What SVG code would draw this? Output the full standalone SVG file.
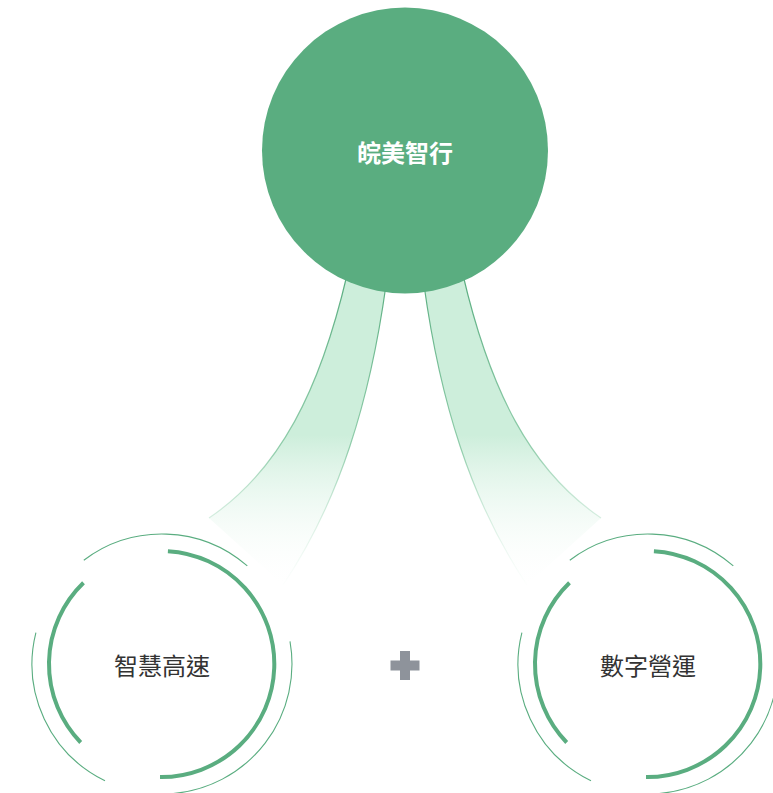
<svg xmlns="http://www.w3.org/2000/svg" width="773" height="793" viewBox="0 0 773 793">
  <style>
    .thick { fill: none; stroke: #5aad80; stroke-width: 4; }
    .thin { fill: none; stroke: #5aad80; stroke-width: 1.1; }
    .label { font-family: "Noto Sans CJK TC", "Noto Sans CJK SC", sans-serif; font-size: 24px; fill: #333333; text-anchor: middle; dominant-baseline: central; }
    .title { font-family: "Noto Sans CJK SC", "Noto Sans CJK TC", sans-serif; font-size: 24px; font-weight: bold; fill: #ffffff; text-anchor: middle; dominant-baseline: central; }
    .band { fill: url(#bandFill); stroke: none; }
    .edge { fill: none; stroke: url(#edgeStroke); stroke-width: 1.2; }
  </style>
  <defs>
    <linearGradient id="bandFill" gradientUnits="userSpaceOnUse" x1="0" y1="280" x2="0" y2="590">
      <stop offset="0" stop-color="#cdeedb"/>
      <stop offset="0.5" stop-color="#cdeedb"/>
      <stop offset="1" stop-color="#ffffff" stop-opacity="0"/>
    </linearGradient>
    <linearGradient id="edgeStroke" gradientUnits="userSpaceOnUse" x1="0" y1="280" x2="0" y2="590">
      <stop offset="0" stop-color="#5aad80"/>
      <stop offset="0.55" stop-color="#7cc39b" stop-opacity="0.8"/>
      <stop offset="1" stop-color="#cdeedb" stop-opacity="0"/>
    </linearGradient>
    <g id="ring">
      <path class="thick" d="M167.9 551.2 A113 113 0 0 1 160 777"/>
      <path class="thick" d="M80.7 742.5 A113 113 0 0 1 83.5 582.7"/>
      <path class="thin" d="M83.8 560.2 A130 130 0 0 1 247.3 565.9"/>
      <path class="thin" d="M105 780.8 A130 130 0 0 1 35.9 632.6"/>
      <path class="thin" d="M290 641.4 A130 130 0 0 1 173.3 793.5"/>
    </g>
  </defs>

  <g id="connectors">
    <g id="band-left">
      <path class="band" d="M347 275 C 320 390, 280 470, 209 518 L 283 585 C 340 500, 370 400, 386 285 Z"/>
      <path class="edge" d="M347 275 C 320 390, 280 470, 209 518"/>
      <path class="edge" d="M386 285 C 370 400, 340 500, 283 585"/>
    </g>
    <g id="band-right" transform="translate(810,0) scale(-1,1)">
      <path class="band" d="M347 275 C 320 390, 280 470, 209 518 L 283 585 C 340 500, 370 400, 386 285 Z"/>
      <path class="edge" d="M347 275 C 320 390, 280 470, 209 518"/>
      <path class="edge" d="M386 285 C 370 400, 340 500, 283 585"/>
    </g>
  </g>

  <g id="node-top">
    <circle cx="405" cy="150.5" r="143" fill="#5aad80"/>
    <text class="title" x="405" y="151">皖美智行</text>
  </g>

  <g id="node-left">
    <use href="#ring"/>
    <text class="label" x="162" y="664">智慧高速</text>
  </g>

  <g id="plus">
    <rect x="400" y="651" width="10" height="29" fill="#8e939b"/>
    <rect x="390.5" y="660.5" width="29" height="10" fill="#8e939b"/>
  </g>

  <g id="node-right">
    <use href="#ring" transform="translate(486,0)"/>
    <text class="label" x="648" y="664">數字營運</text>
  </g>
</svg>
